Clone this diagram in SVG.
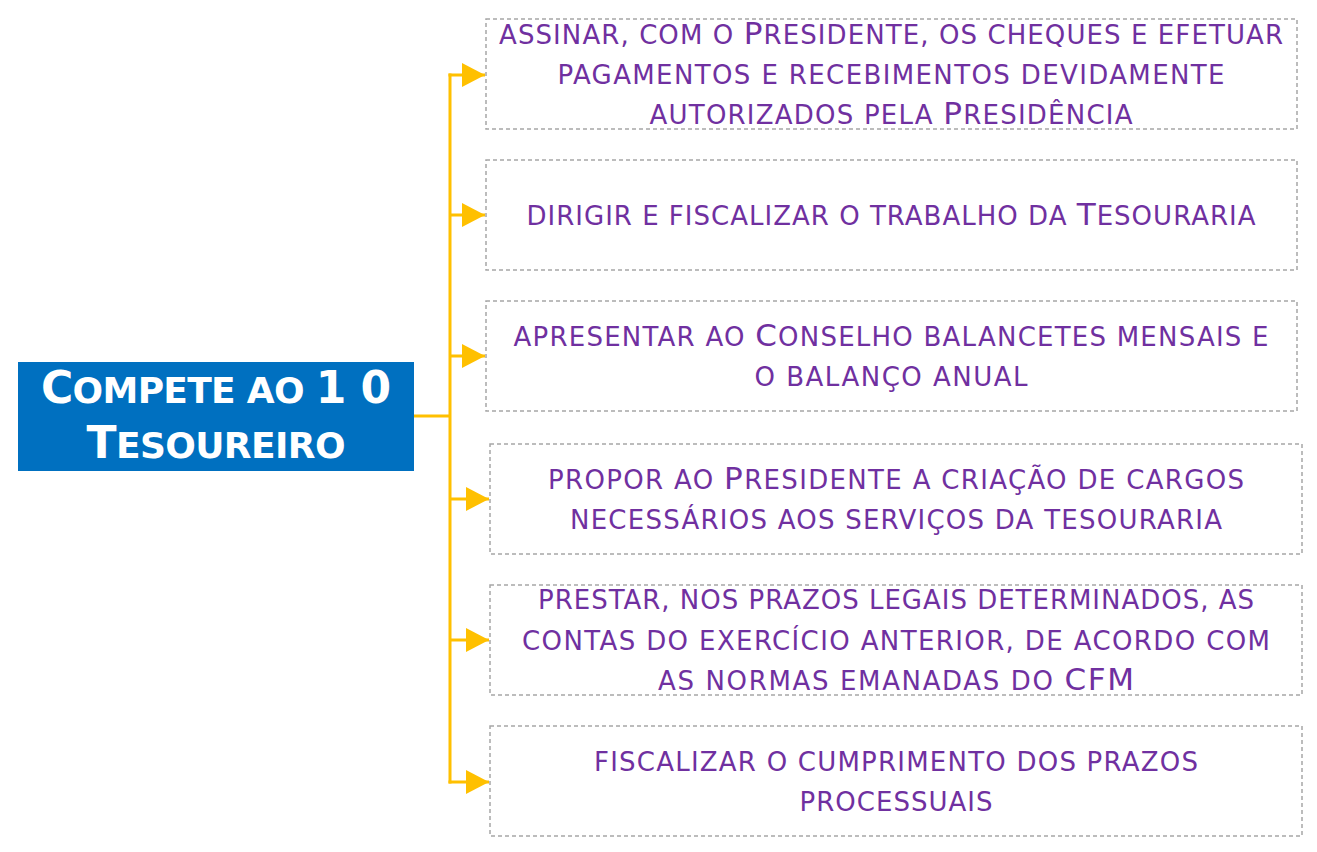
<svg xmlns="http://www.w3.org/2000/svg" width="1317" height="852" viewBox="0 0 1317 852">
<style>
.box{fill:#FFFFFF;stroke:#A6A6A6;stroke-width:1.5;stroke-dasharray:4 3}
.t{font-family:"DejaVu Sans","Liberation Sans",sans-serif;font-size:26px;fill:#7030A0;text-anchor:middle}
.c{font-size:31px}
.title{font-family:"DejaVu Sans","Liberation Sans",sans-serif;font-weight:bold;fill:#FFFFFF;text-anchor:middle;font-size:36px}
.tc{font-size:44px}
.con{fill:none;stroke:#FFC000;stroke-width:3}
</style>
<defs>
<marker id="arr" markerUnits="userSpaceOnUse" markerWidth="24" markerHeight="26" refX="23" refY="12" orient="auto">
<path d="M0,0 L23,12 L0,24 Z" fill="#FFC000"/>
</marker>
</defs>
<g id="connectors">
<path class="con" d="M414,416 H450 M450,73.5 V783.5"/>
<path class="con" d="M448.5,75 H485" marker-end="url(#arr)"/>
<path class="con" d="M450,215 H485" marker-end="url(#arr)"/>
<path class="con" d="M450,356 H485" marker-end="url(#arr)"/>
<path class="con" d="M450,499 H489" marker-end="url(#arr)"/>
<path class="con" d="M450,640 H489" marker-end="url(#arr)"/>
<path class="con" d="M448.5,782 H489" marker-end="url(#arr)"/>
</g>
<g id="root">
<rect x="18" y="362" width="396" height="109" fill="#0070C0"/>
<text class="title" x="216" y="403" textLength="350"><tspan class="tc">C</tspan>OMPETE AO <tspan class="tc">1 0</tspan></text>
<text class="title" x="216" y="458" textLength="259"><tspan class="tc">T</tspan>ESOUREIRO</text>
</g>
<g id="n1">
<rect class="box" x="486" y="19" width="811" height="110"/>
<text class="t" x="891" y="44" textLength="784">ASSINAR, COM O <tspan class="c">P</tspan>RESIDENTE, OS CHEQUES E EFETUAR</text>
<text class="t" x="891" y="84" textLength="667">PAGAMENTOS E RECEBIMENTOS DEVIDAMENTE</text>
<text class="t" x="891" y="124" textLength="483">AUTORIZADOS PELA <tspan class="c">P</tspan>RESIDÊNCIA</text>
</g>
<g id="n2">
<rect class="box" x="486" y="160" width="811" height="110"/>
<text class="t" x="891" y="225" textLength="729">DIRIGIR E FISCALIZAR O TRABALHO DA <tspan class="c">T</tspan>ESOURARIA</text>
</g>
<g id="n3">
<rect class="box" x="486" y="301" width="811" height="110"/>
<text class="t" x="891" y="346" textLength="755">APRESENTAR AO <tspan class="c">C</tspan>ONSELHO BALANCETES MENSAIS E</text>
<text class="t" x="891" y="386" textLength="273">O BALANÇO ANUAL</text>
</g>
<g id="n4">
<rect class="box" x="490" y="444" width="812" height="110"/>
<text class="t" x="896" y="489" textLength="696">PROPOR AO <tspan class="c">P</tspan>RESIDENTE A CRIAÇÃO DE CARGOS</text>
<text class="t" x="896" y="529" textLength="652">NECESSÁRIOS AOS SERVIÇOS DA  TESOURARIA</text>
</g>
<g id="n5">
<rect class="box" x="490" y="585" width="812" height="110"/>
<text class="t" x="896" y="609" textLength="716">PRESTAR, NOS PRAZOS LEGAIS DETERMINADOS, AS</text>
<text class="t" x="896" y="650" textLength="748">CONTAS DO EXERCÍCIO ANTERIOR, DE  ACORDO COM</text>
<text class="t" x="896" y="690" textLength="476">AS NORMAS EMANADAS DO <tspan class="c">CFM</tspan></text>
</g>
<g id="n6">
<rect class="box" x="490" y="726" width="812" height="110"/>
<text class="t" x="896" y="771" textLength="604">FISCALIZAR O CUMPRIMENTO DOS PRAZOS</text>
<text class="t" x="896" y="811" textLength="193">PROCESSUAIS</text>
</g>
</svg>
